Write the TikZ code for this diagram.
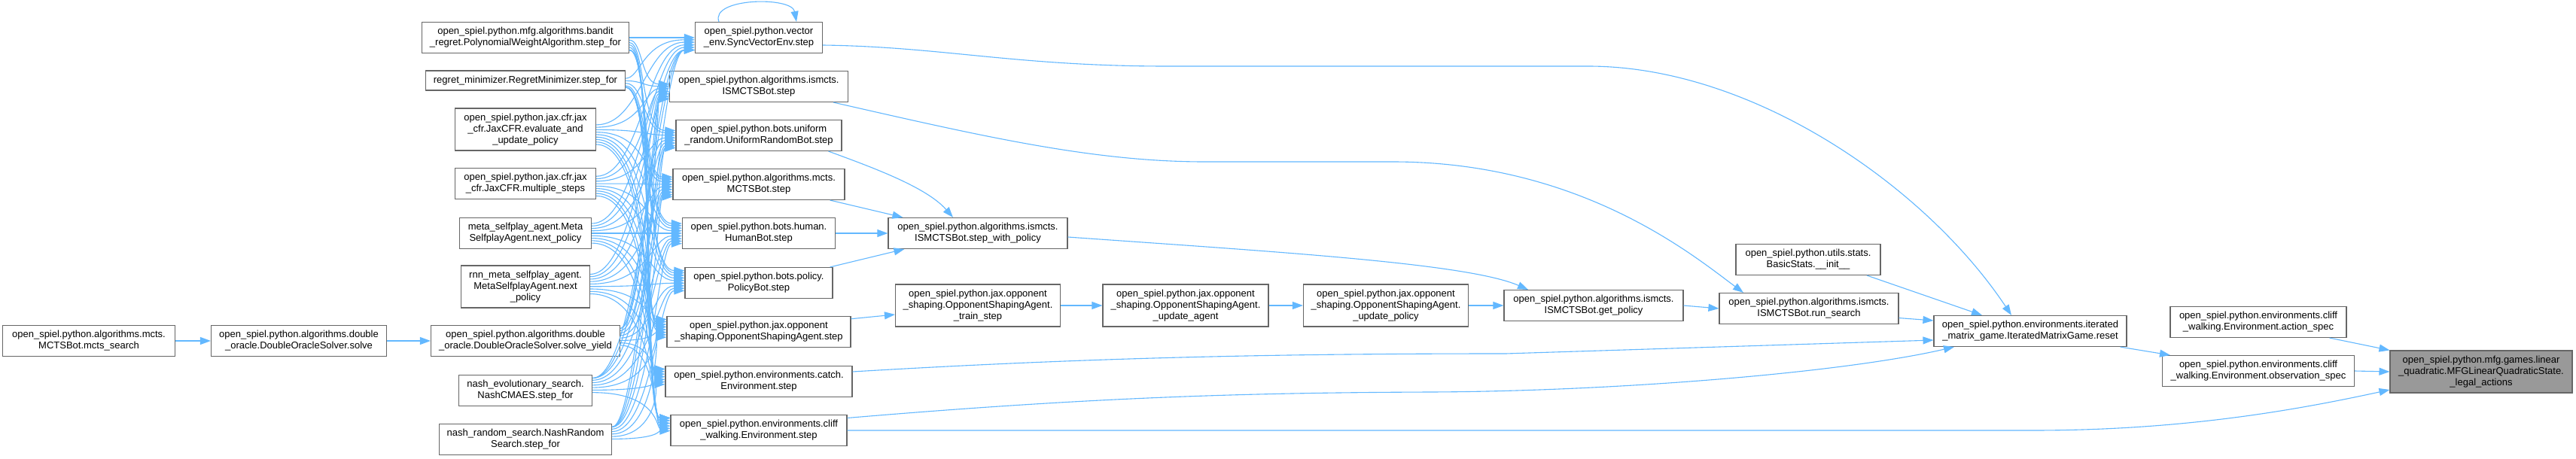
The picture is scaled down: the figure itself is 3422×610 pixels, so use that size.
\documentclass[tikz,border=0pt]{standalone}
\usepackage{fontspec}
\setmainfont{Liberation Sans}
\usetikzlibrary{arrows.meta,calc}
\definecolor{edgeblue}{HTML}{63B8FF}
\definecolor{nodeborder}{HTML}{666666}
\definecolor{targetfill}{HTML}{999999}
\tikzset{
 box/.style={draw=nodeborder, line width=1.1pt, fill=white, align=center, inner sep=0pt, font=\fontsize{13}{15}\selectfont, text=black},
 tbox/.style={box, fill=targetfill},
 conn/.style={draw=edgeblue, line width=1.1pt, -{Triangle[length=14pt,width=10pt]}},
}
\newcommand{\nd}[7][box]{\node[#1,minimum width=#5pt,minimum height=#6pt] (#2) at (#3,#4) {#7};}
\begin{document}
\begin{tikzpicture}[x=1pt,y=-1pt]
\fill[white] (0,0) rectangle (3422,610);
\useasboundingbox (0,0) rectangle (3422,610);
% nodes
\nd{ms}{118}{453}{229}{41}{open\_spiel.python.algorithms.mcts.\\MCTSBot.mcts\_search}
\nd{sol}{397}{453}{233}{41}{open\_spiel.python.algorithms.double\\\_oracle.DoubleOracleSolver.solve}
\nd{bandit}{698}{50}{275}{41}{open\_spiel.python.mfg.algorithms.bandit\\\_regret.PolynomialWeightAlgorithm.step\_for}
\nd{regret}{698}{107}{265}{26}{regret\_minimizer.RegretMinimizer.step\_for}
\nd{evalup}{698}{172}{187}{56}{open\_spiel.python.jax.cfr.jax\\\_cfr.JaxCFR.evaluate\_and\\\_update\_policy}
\nd{multi}{698}{244}{187}{41}{open\_spiel.python.jax.cfr.jax\\\_cfr.JaxCFR.multiple\_steps}
\nd{meta}{698}{310}{175}{41}{meta\_selfplay\_agent.Meta\\SelfplayAgent.next\_policy}
\nd{rnn}{698}{381}{171}{56}{rnn\_meta\_selfplay\_agent.\\MetaSelfplayAgent.next\\\_policy}
\nd{yield}{698}{453}{251}{41}{open\_spiel.python.algorithms.double\\\_oracle.DoubleOracleSolver.solve\_yield}
\nd{cmaes}{698}{519}{177}{41}{nash\_evolutionary\_search.\\NashCMAES.step\_for}
\nd{nrs}{698}{584}{229}{41}{nash\_random\_search.NashRandom\\Search.step\_for}
\nd{sync}{1008}{50}{169}{41}{open\_spiel.python.vector\\\_env.SyncVectorEnv.step}
\nd{isstep}{1008}{115}{237}{41}{open\_spiel.python.algorithms.ismcts.\\ISMCTSBot.step}
\nd{urb}{1008}{180}{220}{41}{open\_spiel.python.bots.uniform\\\_random.UniformRandomBot.step}
\nd{mcts}{1008}{245}{228}{41}{open\_spiel.python.algorithms.mcts.\\MCTSBot.step}
\nd{human}{1008}{310}{203}{41}{open\_spiel.python.bots.human.\\HumanBot.step}
\nd{policy}{1008}{376}{196}{41}{open\_spiel.python.bots.policy.\\PolicyBot.step}
\nd{osa}{1008}{441}{244}{41}{open\_spiel.python.jax.opponent\\\_shaping.OpponentShapingAgent.step}
\nd{catch}{1008}{507}{248}{41}{open\_spiel.python.environments.catch.\\Environment.step}
\nd{cliff}{1008}{572}{234}{41}{open\_spiel.python.environments.cliff\\\_walking.Environment.step}
\nd{swp}{1299}{310}{238}{41}{open\_spiel.python.algorithms.ismcts.\\ISMCTSBot.step\_with\_policy}
\nd{train}{1299}{406}{219}{56}{open\_spiel.python.jax.opponent\\\_shaping.OpponentShapingAgent.\\\_train\_step}
\nd{upagent}{1575}{406}{220}{56}{open\_spiel.python.jax.opponent\\\_shaping.OpponentShapingAgent.\\\_update\_agent}
\nd{uppolicy}{1841}{406}{219}{56}{open\_spiel.python.jax.opponent\\\_shaping.OpponentShapingAgent.\\\_update\_policy}
\nd{getpol}{2117}{406}{238}{41}{open\_spiel.python.algorithms.ismcts.\\ISMCTSBot.get\_policy}
\nd{basic}{2402}{345}{192}{41}{open\_spiel.python.utils.stats.\\BasicStats.\_\_init\_\_}
\nd{runs}{2403}{410}{238}{41}{open\_spiel.python.algorithms.ismcts.\\ISMCTSBot.run\_search}
\nd{reset}{2697}{440}{256}{41}{open\_spiel.python.environments.iterated\\\_matrix\_game.IteratedMatrixGame.reset}
\nd{aspec}{3000}{428}{234}{41}{open\_spiel.python.environments.cliff\\\_walking.Environment.action\_spec}
\nd{ospec}{3000}{493}{255}{41}{open\_spiel.python.environments.cliff\\\_walking.Environment.observation\_spec}
\nd[tbox]{target}{3296}{494}{242}{56}{open\_spiel.python.mfg.games.linear\\\_quadratic.MFGLinearQuadraticState.\\\_legal\_actions}
% edges
\draw[conn] (ms.east) -- (sol.west);
\draw[conn] (sol.east) -- (yield.west);
\foreach \L/\yl/\hl [count=\i] in {bandit/50/41, regret/107/26, evalup/172/56, multi/244/41, meta/310/41, rnn/381/56, yield/453/41, cmaes/519/41, nrs/584/41} {
  \foreach \M/\ym/\hm [count=\j] in {sync/50/41, isstep/115/41, urb/180/41, mcts/245/41, human/310/41, policy/376/41, osa/441/41, catch/507/41, cliff/572/41} {
    \pgfmathsetmacro\ds{max(-(\hl/2-4),min(\hl/2-4,(\ym-\yl)*0.05))}
    \pgfmathsetmacro\de{max(-(\hm/2-4),min(\hm/2-4,(\yl-\ym)*0.05))}
    \pgfmathsetmacro\ys{\yl+\ds}
    \pgfmathsetmacro\ye{\ym+\de}
    \pgfmathsetmacro\cxa{848+3*\j}
    \pgfmathsetmacro\cxb{848+3*\i}
    \draw[conn] ($(\L.east)+(0,\ds)$) .. controls (\cxa,\ys) and (\cxb,\ye) .. ($(\M.west)+(0,\de)$);
  }
}
\draw[conn] ($(sync.north)+(-53,0)$) .. controls +(-12,-32) and +(-6,-34) .. ($(sync.north)+(50,0)$);
\draw[conn] ($(sync.east)+(0,10)$) .. controls (1250,62) and (1350,88) .. (1550,88) -- (2110,88) .. controls (2330,88) and (2560,250) .. ($(reset.north)+(-25,0)$);
\draw[conn] ($(isstep.south east)+(-20,0)$) .. controls (1300,180) and (1450,215) .. (1600,215) -- (1850,215) .. controls (2100,215) and (2250,340) .. ($(runs.north)+(-87,0)$);
\draw[conn] ($(urb.south east)+(-18,0)$) .. controls +(60,22) and +(-35,-40) .. ($(swp.north)+(-33,0)$);
\draw[conn] ($(mcts.south east)+(-20,0)$) -- ($(swp.north west)+(20,0)$);
\draw[conn] (human.east) -- (swp.west);
\draw[conn] ($(policy.north east)+(-4,0)$) -- ($(swp.south west)+(22,0)$);
\draw[conn] ($(swp.east)+(0,5)$) .. controls (1700,335) and (1950,350) .. ($(getpol.north)+(-87,0)$);
\draw[conn] (osa.8) -- ($(train.west)+(0,12)$);
\draw[conn] (train.east) -- (upagent.west);
\draw[conn] (upagent.east) -- (uppolicy.west);
\draw[conn] (uppolicy.east) -- (getpol.west);
\draw[conn] (getpol.east) -- (runs.west);
\draw[conn] (runs.-6) -- ($(reset.west)+(0,-14)$);
\draw[conn] ($(basic.south)+(78,0)$) -- ($(reset.north)+(-64,0)$);
\draw[conn] ($(catch.east)+(0,-13)$) .. controls (1450,475) and (1700,470) .. (2000,470) -- ($(reset.west)+(0,12)$);
\draw[conn] (cliff.8) .. controls (1450,528) and (1650,522) .. (1900,521) .. controls (2150,520) and (2450,495) .. ($(reset.south)+(-101,0)$);
\draw[conn] (cliff.east) -- (2700,572) .. controls (2900,572) and (3050,545) .. ($(target.west)+(0,24)$);
\draw[conn] ($(reset.south east)+(-9,0)$) -- ($(ospec.north west)+(11,0)$);
\draw[conn] ($(aspec.south east)+(-23,0)$) -- (target.north west);
\draw[conn] (ospec.east) -- (target.west);
\end{tikzpicture}
\end{document}
